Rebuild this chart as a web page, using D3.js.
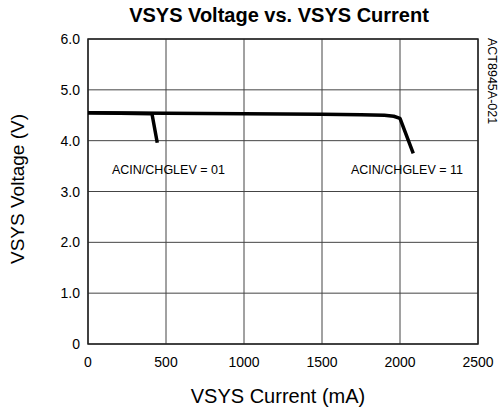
<!DOCTYPE html>
<html>
<head>
<meta charset="utf-8">
<script src="https://cdn.jsdelivr.net/npm/d3@7"></script>
<style>
  body { margin: 0; background: #fff; }
  text { font-family: "Liberation Sans", Arial, sans-serif; fill: #000; }
</style>
</head>
<body>
<div id="viz"></div>
<script>
// data
let currentChg01 = [0, 410, 444];
let voltageChg01 = [4.55, 4.53, 3.96];
let currentChg11 = [0, 500, 1000, 1500, 1750, 1900, 1960, 2000, 2085];
let voltageChg11 = [4.55, 4.54, 4.53, 4.52, 4.51, 4.50, 4.48, 4.44, 3.75];
let xTicks = [0, 500, 1000, 1500, 2000, 2500];
let yTicks = [0, 1, 2, 3, 4, 5, 6];
let labels = ["ACIN/CHGLEV = 01", "ACIN/CHGLEV = 11"];

let svgWidth = 503, svgHeight = 413;
let margin = { left: 88, right: 25, top: 39, bottom: 69 };
let width = svgWidth - margin.left - margin.right;
let height = svgHeight - margin.top - margin.bottom;

const svg = d3.select('#viz')
    .append('svg')
    .attr('width', svgWidth)
    .attr('height', svgHeight);

let x = d3.scaleLinear().domain([0, 2500]).range([margin.left, margin.left + width]);
let y = d3.scaleLinear().domain([0, 6]).range([margin.top + height, margin.top]);

// grid
svg.append('g')
    .selectAll('line')
    .data(xTicks)
    .join('line')
    .attr('x1', d => x(d)).attr('x2', d => x(d))
    .attr('y1', y(6)).attr('y2', y(0))
    .attr('stroke', '#444').attr('stroke-width', 1);
svg.append('g')
    .selectAll('line')
    .data(yTicks)
    .join('line')
    .attr('x1', x(0)).attr('x2', x(2500))
    .attr('y1', d => y(d)).attr('y2', d => y(d))
    .attr('stroke', '#444').attr('stroke-width', 1);

// frame
svg.append('rect')
    .attr('x', x(0)).attr('y', y(6))
    .attr('width', x(2500) - x(0)).attr('height', y(0) - y(6))
    .attr('fill', 'none').attr('stroke', '#222').attr('stroke-width', 1.5);

// tick labels
svg.append('g')
    .selectAll('text')
    .data(yTicks)
    .join('text')
    .attr('x', x(0) - 8)
    .attr('y', d => y(d) + 5)
    .attr('text-anchor', 'end')
    .attr('font-size', 14)
    .text(d => d === 0 ? '0' : d3.format('.1f')(d));
svg.append('g')
    .selectAll('text')
    .data(xTicks)
    .join('text')
    .attr('x', d => x(d))
    .attr('y', y(0) + 23)
    .attr('text-anchor', 'middle')
    .attr('font-size', 14)
    .text(d => d);

// curves
let lineStraight = d3.line().x(d => x(d[0])).y(d => y(d[1]));
svg.append('path')
    .datum(d3.zip(currentChg01, voltageChg01))
    .attr('d', lineStraight)
    .attr('fill', 'none').attr('stroke', '#000').attr('stroke-width', 3.5)
    .attr('stroke-linejoin', 'round');
svg.append('path')
    .datum(d3.zip(currentChg11, voltageChg11))
    .attr('d', lineStraight)
    .attr('fill', 'none').attr('stroke', '#000').attr('stroke-width', 3.5)
    .attr('stroke-linejoin', 'round');

// annotations
svg.append('text').attr('x', 112).attr('y', 174).attr('font-size', 12.5).text(labels[0]);
svg.append('text').attr('x', 351).attr('y', 174).attr('font-size', 12.5).text(labels[1]);

// titles
svg.append('text')
    .attr('x', 279).attr('y', 22)
    .attr('text-anchor', 'middle')
    .attr('font-size', 20).attr('font-weight', 'bold')
    .text('VSYS Voltage vs. VSYS Current');
svg.append('text')
    .attr('x', 278).attr('y', 403)
    .attr('text-anchor', 'middle')
    .attr('font-size', 20)
    .text('VSYS Current (mA)');
svg.append('text')
    .attr('transform', 'translate(24,189) rotate(-90)')
    .attr('text-anchor', 'middle')
    .attr('font-size', 19)
    .text('VSYS Voltage (V)');
svg.append('text')
    .attr('transform', 'translate(488,38) rotate(90)')
    .attr('font-size', 12.5)
    .text('ACT8945A-021');
</script>
</body>
</html>
